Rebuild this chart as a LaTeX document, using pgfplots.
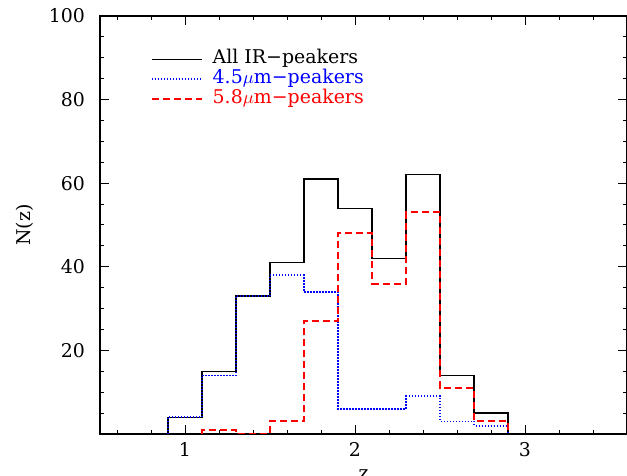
\documentclass[border=0pt]{standalone}
\usepackage{pgfplots}
\pgfplotsset{compat=1.18}
\usepackage{fontspec}
\setmainfont{DejaVu Serif}
\definecolor{pblue}{RGB}{0,0,255}
\definecolor{pred}{RGB}{255,0,0}
\begin{document}
\begin{tikzpicture}[font=\fontsize{9.5}{11}\selectfont]
\begin{axis}[
  name=ax,
  scale only axis,
  width=263.5bp, height=209bp,
  xmin=0.5, xmax=3.6, ymin=0, ymax=100,
  xtick={1,2,3},
  minor xtick={0.6,0.8,1.2,1.4,1.6,1.8,2.2,2.4,2.6,2.8,3.2,3.4},
  ytick={20,40,60,80,100},
  minor ytick={5,10,15,25,30,35,45,50,55,65,70,75,85,90,95},
  tick align=inside,
  major tick length=4.5bp,
  minor tick length=2.2bp,
  every tick/.style={black, line width=0.5bp},
  axis line style={line width=1bp},
  /pgf/number format/assume math mode=true,
  tick label style={font=\fontsize{9.5}{11}\selectfont},
  yticklabel style={xshift=-4bp},
  xticklabel style={yshift=-0.5bp},
  legend style={at={(axis description cs:0,1)}, anchor=north west,
    xshift=25.35bp, yshift=-16.65bp, draw=none, fill=none,
    inner sep=0pt, outer sep=0pt, row sep=0pt, column sep=4.5bp,
    font=\fontsize{9.5}{11}\selectfont,
    nodes={inner sep=0.5bp, text height=6.5bp, text depth=2.5bp}},
  legend cell align=left,
  legend image code/.code={\draw[#1] (0bp,0bp) -- (25bp,0bp);},
]
\addplot[const plot mark left, draw=black, line width=0.6bp] coordinates {
 (0.9,0) (0.9,4) (1.1,15) (1.3,33) (1.5,41) (1.7,61) (1.9,54)
 (2.1,42) (2.3,62) (2.5,14) (2.7,5) (2.9,0)};
\addlegendentry[text=black]{All IR−peakers}
\addplot[const plot mark left, draw=pblue, line width=0.9bp, dash pattern=on 0.6bp off 0.9bp] coordinates {
 (0.9,0) (0.9,4) (1.1,14) (1.3,33) (1.5,38) (1.7,34) (1.9,6)
 (2.1,6) (2.3,9) (2.5,3) (2.7,2) (2.9,0)};
\addlegendentry[text=pblue]{4.5$\mu$m−peakers}
\addplot[const plot mark left, draw=pred, line width=1bp, dash pattern=on 3.5bp off 2bp] coordinates {
 (1.1,0) (1.1,1) (1.3,0) (1.5,3) (1.7,27) (1.9,48)
 (2.1,36) (2.3,53) (2.5,11) (2.7,3) (2.9,0)};
\addlegendentry[text=pred]{5.8$\mu$m−peakers}
\end{axis}
\node[rotate=90, anchor=center] at ([xshift=-37.5bp]ax.west) {N(z)};
\node[anchor=north, inner sep=0pt] at ([yshift=-17.5bp]ax.south) {z};
\pgfresetboundingbox
\path ([shift={(-50bp,-21bp)}]ax.south west) rectangle ([shift={(0bp,8bp)}]ax.north east);
\end{tikzpicture}
\end{document}
